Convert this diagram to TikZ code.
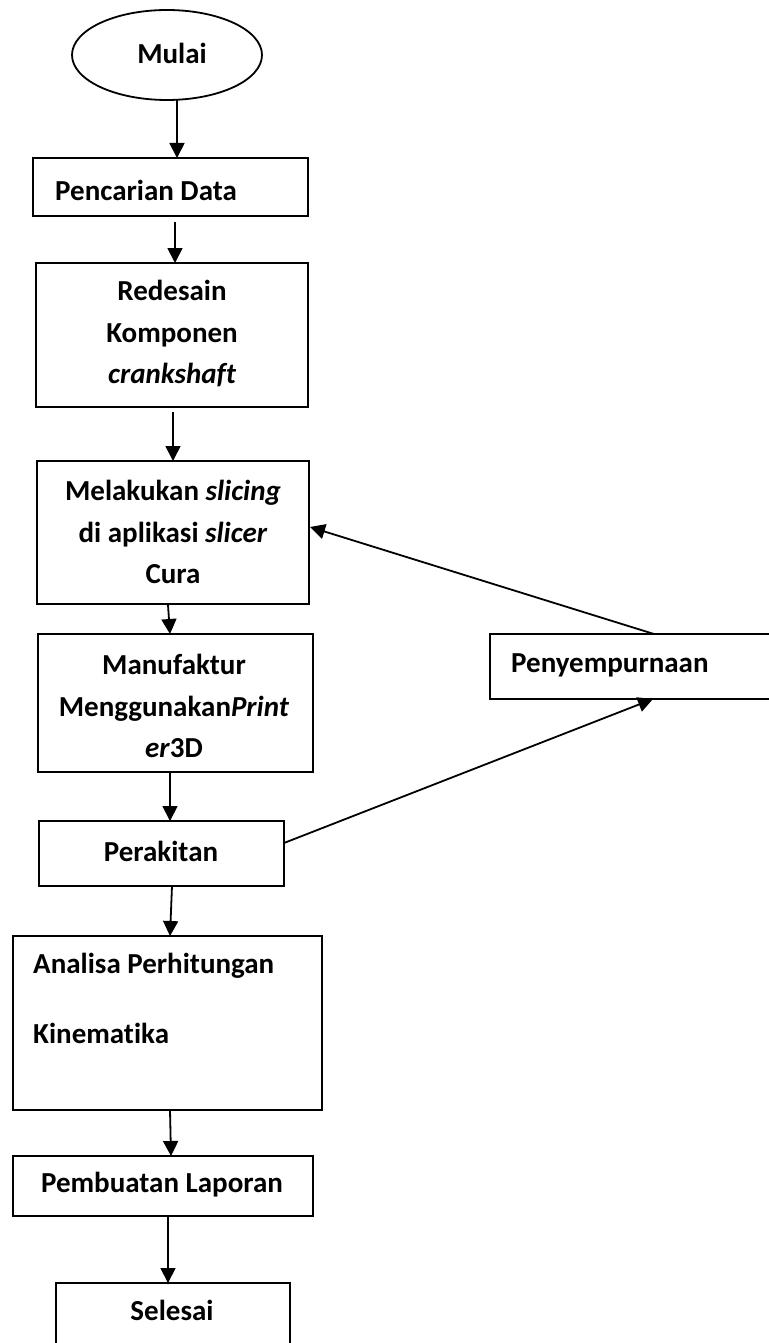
\documentclass[tikz,border=0pt]{standalone}
\usepackage{fontspec}
\setmainfont{Carlito}[Ligatures=NoCommon]
\usetikzlibrary{arrows.meta,shapes.geometric}
\begin{document}
\begin{tikzpicture}[x=1pt,y=-1pt,
  box/.style={draw,line width=1.8pt,inner sep=0pt},
  lbl/.style={font=\fontsize{29}{41.5}\selectfont\bfseries,align=center,inner sep=0pt},
  arr/.style={line width=1.8pt,-{Triangle[length=15pt,width=15pt]}}]
\useasboundingbox[fill=white] (0,0) rectangle (768,1343);
% Mulai
\node[draw,ellipse,line width=1.8pt,minimum width=190pt,minimum height=90pt,inner sep=0pt] (mulai) at (167,55) {};
\node[lbl] (tmulai) at (172,53) {Mulai};
\coordinate (mu-b) at (177,100);
% Pencarian Data
\draw[box] (33,158) rectangle (308,216);
\coordinate (pd-t) at (177,158);
\coordinate (pd-b) at (175,222);
\node[lbl,anchor=west] (tpd) at (55,190) {Pencarian Data};
% Redesain
\draw[box] (36,263) rectangle (308,407);
\coordinate (rd-t) at (175,263);
\coordinate (rd-b) at (173,412);
\node[lbl] (trd) at (172,334) {Redesain\\Komponen\\\itshape crankshaft};
% Melakukan slicing
\draw[box] (37,461) rectangle (309,604);
\coordinate (ms-t) at (173,461);
\coordinate (ms-b) at (168,605);
\coordinate (ms-r) at (310,527);
\node[lbl] (tms) at (173,532) {Melakukan \textit{slicing}\\di aplikasi \textit{slicer}\\Cura};
% Manufaktur
\draw[box] (38,634) rectangle (313,772);
\coordinate (mf-t) at (170,634);
\coordinate (mf-b) at (170,772);
\node[lbl] (tmf) at (174,706) {Manufaktur\\Menggunakan\textit{Print}\\\textit{er}3D};
% Perakitan
\draw[box] (39,821) rectangle (284,886);
\coordinate (pk-t) at (170,821);
\coordinate (pk-b) at (172,886);
\coordinate (pk-r) at (284,843);
\node[lbl] (tpk) at (161,851) {Perakitan};
% Analisa
\draw[box] (13,936) rectangle (322,1110);
\coordinate (an-t) at (170,936);
\coordinate (an-b) at (170,1110);
\node[lbl,anchor=west] (tan1) at (33,966) {Analisa Perhitungan};
\node[lbl,anchor=west] (tan2) at (33,1033) {Kinematika};
% Pembuatan Laporan
\draw[box] (13,1156) rectangle (313,1216);
\coordinate (pl-t) at (171,1156);
\coordinate (pl-b) at (168,1216);
\node[lbl] (tpl) at (162,1185) {Pembuatan Laporan};
% Selesai
\draw[box] (56,1360) -- (56,1283) -- (290,1283) -- (290,1360);
\coordinate (sl-t) at (168,1283);
\node[lbl] (tsl) at (172,1310) {Selesai};
% Penyempurnaan
\draw[box] (490,634) rectangle (775,699);
\coordinate (ps-t) at (654,634);
\coordinate (ps-b) at (653,699);
\node[lbl,anchor=west] (tps) at (511,665) {Penyempurnaan};
% arrows
\draw[arr] (mu-b) -- (pd-t);
\draw[arr] (pd-b) -- (rd-t);
\draw[arr] (rd-b) -- (ms-t);
\draw[arr] (ms-b) -- (mf-t);
\draw[arr] (mf-b) -- (pk-t);
\draw[arr] (pk-b) -- (an-t);
\draw[arr] (an-b) -- (pl-t);
\draw[arr] (pl-b) -- (sl-t);
\draw[arr] (pk-r) -- (ps-b);
\draw[arr] (ps-t) -- (ms-r);
\end{tikzpicture}
\end{document}
